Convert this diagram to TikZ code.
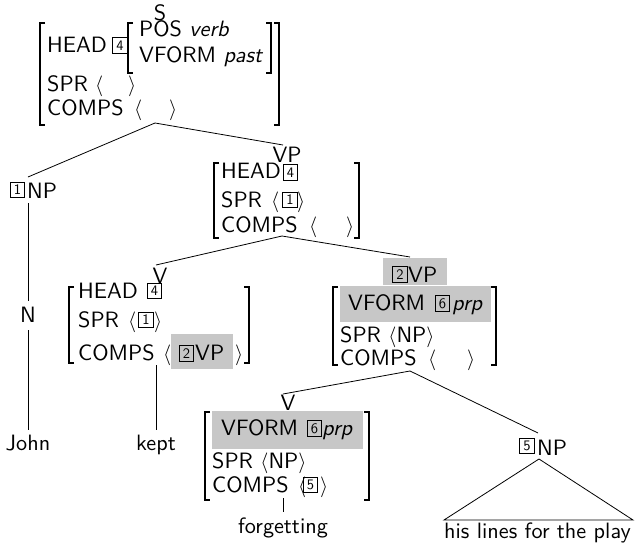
\documentclass[tikz,border=0pt]{standalone}
\usepackage{fontspec}
\setsansfont{lmsans10-regular.otf}[ItalicFont=lmsans10-oblique.otf]
\usetikzlibrary{calc}
\definecolor{hilite}{gray}{0.78}
\tikzset{
  txt/.style={anchor=base west, inner sep=0pt, font=\sffamily\fontsize{22.2}{26}\selectfont},
  ctr/.style={anchor=base, inner sep=0pt, font=\sffamily\fontsize{22.2}{26}\selectfont},
  tag/.style={draw, line width=0.7pt, inner sep=0pt, minimum width=14.5pt, minimum height=15.5pt,
              font=\sffamily\fontsize{14.5}{14.5}\selectfont},
  brk/.style={line width=1.1pt},
  edge/.style={line width=0.8pt},
  hl/.style={fill=hilite},
}
% square brackets of an attribute-value matrix: x, top y, bottom y
\newcommand\avmL[3]{\draw[brk] (#1+5,#2) -- (#1,#2) -- (#1,#3) -- (#1+5,#3);}
\newcommand\avmR[3]{\draw[brk] (#1-5,#2) -- (#1,#2) -- (#1,#3) -- (#1-5,#3);}
\begin{document}
\begin{tikzpicture}[x=1pt,y=-1pt]
\useasboundingbox (0,0) rectangle (635,543);

% shaded feature rows
\fill[hl] (171,334) rectangle (233,369);
\fill[hl] (383,258) rectangle (447,285);
\fill[hl] (340,286) rectangle (491,322);
\fill[hl] (212,411) rectangle (363,449);

% ---- S
\node[ctr] (S) at (160,21) {S};
\avmL{40}{23}{125} \avmR{279}{23}{125}
\node[txt] (s-head) at (47,53) {HEAD};
\node[tag] (s-t4) at (120,45.5) {4};
\avmL{128}{23}{73} \avmR{271}{23}{73}
\node[txt] (s-pos) at (139,37) {POS \textit{verb}};
\node[txt] (s-vf) at (139,63) {VFORM \textit{past}};
\node[txt] (s-spr) at (47,92) {SPR};
\node[txt] (s-spr-l) at (95,92) {$\langle$};
\node[txt] (s-spr-r) at (128,92) {$\rangle$};
\node[txt] (s-comps) at (47,115) {COMPS};
\node[txt] (s-comps-l) at (134,115) {$\langle$};
\node[txt] (s-comps-r) at (169,115) {$\rangle$};
\coordinate (s-foot) at (155,123);

% ---- subject NP
\node[tag] (np-t1) at (17.5,190) {1};
\node[txt] (np) at (27,198) {NP};
\coordinate (np-top) at (28,177);
\coordinate (np-foot) at (28,203);
\node[ctr] (n) at (28,322) {N};
\node[ctr] (john) at (28,450) {John};

% ---- VP
\node[ctr] (vp) at (287,162) {VP};
\coordinate (vp-top) at (283,145);
\avmL{214}{163}{238} \avmR{359}{163}{238}
\node[txt] (vp-head) at (221,178) {HEAD};
\node[tag] (vp-t4) at (290.5,172.5) {4};
\node[txt] (vp-spr) at (221,207) {SPR};
\node[txt] (vp-spr-l) at (271,207) {$\langle$};
\node[tag] (vp-t1) at (290,200) {1};
\node[txt] (vp-spr-r) at (297,207) {$\rangle$};
\node[txt] (vp-comps) at (221,232) {COMPS};
\node[txt] (vp-comps-l) at (309,232) {$\langle$};
\node[txt] (vp-comps-r) at (346,232) {$\rangle$};
\coordinate (vp-foot) at (282,236);

% ---- V (kept)
\node[ctr] (v1) at (160,283) {V};
\coordinate (v1-top) at (156,265);
\avmL{69}{287}{363} \avmR{249}{287}{363}
\node[txt] (v1-head) at (78,298) {HEAD};
\node[tag] (v1-t4) at (154.5,291) {4};
\node[txt] (v1-spr) at (78,327) {SPR};
\node[txt] (v1-spr-l) at (128,327) {$\langle$};
\node[tag] (v1-t1) at (146,320) {1};
\node[txt] (v1-spr-r) at (154,327) {$\rangle$};
\node[txt] (v1-comps) at (78,360) {COMPS};
\node[txt] (v1-comps-l) at (163,360) {$\langle$};
\node[tag] (v1-t2) at (186.5,353.5) {2};
\node[txt] (v1-vp) at (195,360) {VP};
\node[txt] (v1-comps-r) at (235,360) {$\rangle$};
\coordinate (v1-foot) at (156,365);
\node[ctr] (kept) at (156,450) {kept};

% ---- VP complement
\node[tag] (vp2-t2) at (400,274.5) {2};
\node[txt] (vp2) at (408,282) {VP};
\coordinate (vp2-top) at (410,257);
\avmL{333}{287}{365} \avmR{496}{287}{365}
\node[txt] (vp2-vf) at (348,310) {VFORM};
\node[tag] (vp2-t6) at (442.5,303.5) {6};
\node[txt] (vp2-prp) at (452,310) {\textit{prp}};
\node[txt] (vp2-spr) at (340,342) {SPR $\langle$NP$\rangle$};
\node[txt] (vp2-comps) at (340,365) {COMPS};
\node[txt] (vp2-comps-l) at (428,365) {$\langle$};
\node[txt] (vp2-comps-r) at (467,365) {$\rangle$};
\coordinate (vp2-foot) at (410,371);

% ---- V (forgetting)
\node[ctr] (v2) at (288,410) {V};
\coordinate (v2-top) at (283,394);
\avmL{205}{412}{500} \avmR{369}{412}{500}
\node[txt] (v2-vf) at (221,435) {VFORM};
\node[tag] (v2-t6) at (314.5,428.5) {6};
\node[txt] (v2-prp) at (322,435) {\textit{prp}};
\node[txt] (v2-spr) at (212,468) {SPR $\langle$NP$\rangle$};
\node[txt] (v2-comps) at (212,492) {COMPS};
\node[txt] (v2-comps-l) at (298,492) {$\langle$};
\node[tag] (v2-t5) at (310.5,485) {5};
\node[txt] (v2-comps-r) at (320,492) {$\rangle$};
\coordinate (v2-foot) at (283,498);
\node[ctr] (forgetting) at (283,533) {forgetting};

% ---- object NP
\node[tag] (np5-t5) at (527,446) {5};
\node[txt] (np5) at (537,455) {NP};
\coordinate (np5-top) at (538,433);
\coordinate (np5-foot) at (539,459);
\coordinate (tri-l) at (444,520);
\coordinate (tri-r) at (633,520);
\node[txt] (play) at (444,538) {his lines for the play};

% ---- branches
\draw[edge] (np-top) -- (s-foot) -- (vp-top);
\draw[edge] (v1-top) -- (vp-foot) -- (vp2-top);
\draw[edge] (v2-top) -- (vp2-foot) -- (np5-top);
\draw[edge] (np-foot) -- ([yshift=5pt]n.north);
\draw[edge] ([yshift=-8pt]n.base) -- ([yshift=4pt]john.north);
\draw[edge] (v1-foot) -- ([yshift=4pt]kept.north);
\draw[edge] (v2-foot) -- ([yshift=5pt]forgetting.north);
\draw[edge] (tri-l) -- (np5-foot) -- (tri-r) -- cycle;
\end{tikzpicture}
\end{document}
